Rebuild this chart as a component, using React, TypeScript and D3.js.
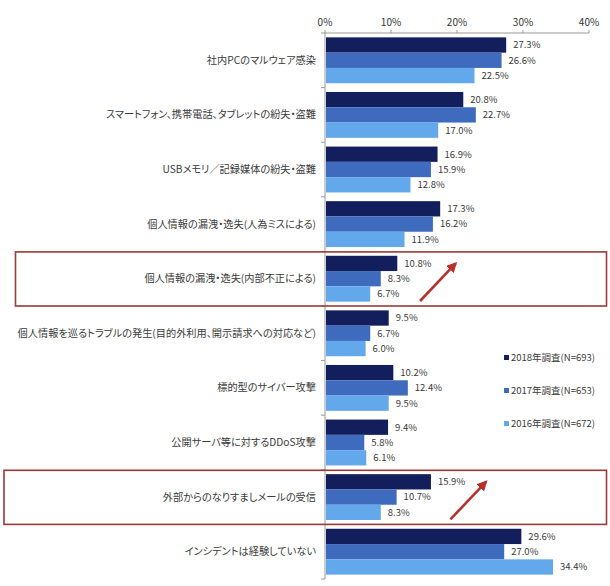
import React from "react";
import * as d3 from "d3";

const categories = [
  "社内PCのマルウェア感染",
  "スマートフォン、携帯電話、タブレットの紛失・盗難",
  "USBメモリ／記録媒体の紛失・盗難",
  "個人情報の漏洩・逸失(人為ミスによる)",
  "個人情報の漏洩・逸失(内部不正による)",
  "個人情報を巡るトラブルの発生(目的外利用、開示請求への対応など)",
  "標的型のサイバー攻撃",
  "公開サーバ等に対するDDoS攻撃",
  "外部からのなりすましメールの受信",
  "インシデントは経験していない",
];
const series = ["2018年調査(N=693)", "2017年調査(N=653)", "2016年調査(N=672)"];
const v2018 = [27.3, 20.8, 16.9, 17.3, 10.8, 9.5, 10.2, 9.4, 15.9, 29.6];
const v2017 = [26.6, 22.7, 15.9, 16.2, 8.3, 6.7, 12.4, 5.8, 10.7, 27.0];
const v2016 = [22.5, 17.0, 12.8, 11.9, 6.7, 6.0, 9.5, 6.1, 8.3, 34.4];
const xTicks = [0, 10, 20, 30, 40];
const highlighted = [4, 8];
const arrowFrom = [14.4, 19.0];
const arrowTo = [19.8, 24.4];
const colors = ["#131f5c", "#3f6bbf", "#63a8eb"];

export default function App() {
  const W = 610, H = 586;
  const x = d3.scaleLinear().domain([0, 40]).range([325, 589]);
  const y = d3.scaleBand<number>().domain(d3.range(categories.length)).range([33, 579]).paddingInner(0.16).paddingOuter(0.08);
  const step = y.step();
  const values = [v2018, v2017, v2016];
  const sub = d3.scaleBand<number>().domain([0, 1, 2]).range([0, y.bandwidth()]);
  const font = "'Noto Sans CJK JP', 'Noto Sans', sans-serif";
  const boxLeft = [15.5, 4];
  const red = "#b8302b";
  return (
    <svg width={W} height={H} style={{ position: "absolute", left: 0, top: 0, background: "#fff" }} fontFamily={font}>
      <defs>
        <marker id="ah" viewBox="0 0 10 10" refX="8" refY="5" markerWidth="4" markerHeight="4" orient="auto">
          <path d="M0,0 L10,5 L0,10 z" fill={red} />
        </marker>
      </defs>
      <rect width={W} height={H} fill="#fff" />
      {/* top axis */}
      <line x1={x(0)} x2={x(40)} y1={33} y2={33} stroke="#999" strokeWidth={1} />
      {xTicks.map((t) => (
        <g key={t}>
          <line x1={x(t)} x2={x(t)} y1={30} y2={33} stroke="#999" />
          <text x={x(t)} y={26} textAnchor="middle" fontSize={10} fill="#333">{t}%</text>
        </g>
      ))}
      {/* vertical axis */}
      <line x1={x(0)} x2={x(0)} y1={33} y2={579} stroke="#999" />
      {d3.range(categories.length + 1).map((i) => (
        <line key={i} x1={x(0) - 4} x2={x(0)} y1={33 + i * step} y2={33 + i * step} stroke="#999" />
      ))}
      {/* bars */}
      {categories.map((c, i) => (
        <g key={c}>
          <text x={316} y={(y(i) as number) + y.bandwidth() / 2} dy="0.35em" textAnchor="end" fontSize={10.2} fill="#3a3a3a" style={{ fontFeatureSettings: '"palt"' }}>{c}</text>
          {values.map((vals, s) => (
            <g key={s}>
              <rect x={x(0) + 1} y={(y(i) as number) + (sub(s) as number)} width={x(vals[i]) - x(0)} height={sub.bandwidth()} fill={colors[s]} />
              <text x={x(vals[i]) + 8} y={(y(i) as number) + (sub(s) as number) + sub.bandwidth() / 2} dy="0.35em" fontSize={9.5} fill="#3a3a3a">{vals[i].toFixed(1)}%</text>
            </g>
          ))}
        </g>
      ))}
      {/* highlight boxes and arrows */}
      {highlighted.map((h, k) => {
        const top = 33 + h * step;
        return (
          <g key={h}>
            <rect x={boxLeft[k]} y={top + 0.5} width={606.5 - boxLeft[k]} height={step - 0.5} fill="none" stroke="#9a3a3a" strokeWidth={1.6} />
            <line x1={x(arrowFrom[k])} y1={top + step - 5} x2={x(arrowTo[k])} y2={top + 12} stroke={red} strokeWidth={2.6} markerEnd="url(#ah)" />
          </g>
        );
      })}
      {/* legend */}
      {series.map((s, i) => (
        <g key={s}>
          <rect x={504} y={355 + i * 33} width={5} height={5} fill={colors[i]} />
          <text x={511} y={358 + i * 33} dy="0.35em" fontSize={9.5} fill="#3a3a3a">{s}</text>
        </g>
      ))}
    </svg>
  );
}
